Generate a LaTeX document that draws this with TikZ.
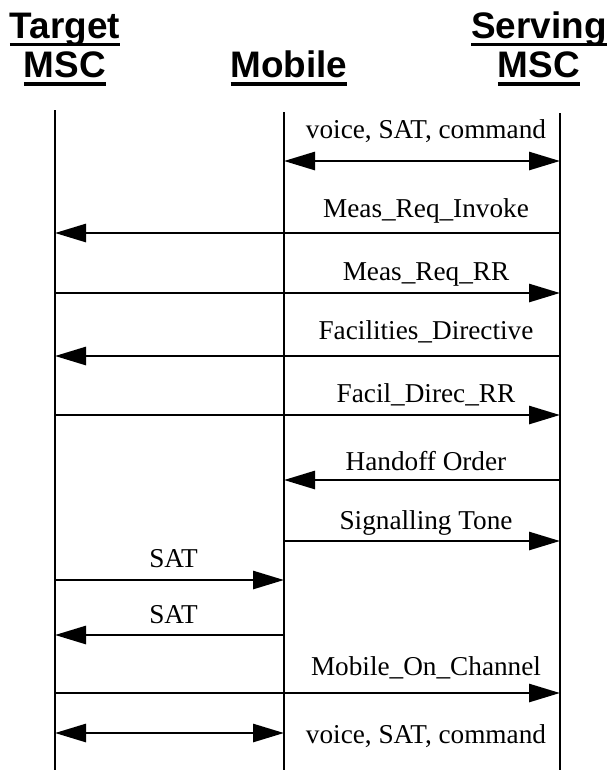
\documentclass[tikz,border=0pt]{standalone}
\usepackage{fontspec}
\setmainfont{Liberation Serif}
\newfontfamily\headfont{Liberation Sans}
\usetikzlibrary{positioning, arrows.meta, calc}
\tikzset{
  % Lifeline headers
  header/.style={
    font=\headfont\bfseries\fontsize{21}{22.5}\selectfont,
    align=center, inner sep=0pt, anchor=south
  },
  % Lifelines
  lifeline/.style={line width=1.6pt},
  % Messages
  msg/.style={
    -{Triangle[length=0.62cm, width=0.36cm]}, line width=1.6pt
  },
  msgboth/.style={
    {Triangle[length=0.62cm, width=0.36cm]}-{Triangle[length=0.62cm, width=0.36cm]},
    line width=1.6pt
  },
  msglabel/.style={
    font=\fontsize{15.5}{18}\selectfont,
    inner sep=0pt, anchor=base, yshift=#1, xshift=0.08cm
  },
  msglabel/.default=0.26cm,
}
\newcommand{\hdul}[1]{%
  \setbox0\hbox{#1}\rlap{\rule[-4.5pt]{\wd0}{1.8pt}}\box0}

\begin{document}
\begin{tikzpicture}

  \useasboundingbox (0,0) rectangle (12.14,-15.4);

  %% ── Headers ──
  \node[header] (tgtHd) at (1.3,-1.72) {\hdul{Target}\\\hdul{MSC}};
  \node[header] (mobHd) at (5.78,-1.72) {\hdul{Mobile}};
  \node[header] (srvHd) at (10.78,-1.72) {\hdul{Serving}\\\hdul{MSC}};

  %% ── Lifelines ──
  \coordinate (tgtTop) at (1.1,-2.2);
  \coordinate (tgtBot) at (1.1,-15.4);
  \coordinate (mobTop) at (5.68,-2.24);
  \coordinate (mobBot) at (5.68,-15.4);
  \coordinate (srvTop) at (11.2,-2.26);
  \coordinate (srvBot) at (11.2,-15.4);
  \draw[lifeline] (tgtTop) -- (tgtBot);
  \draw[lifeline] (mobTop) -- (mobBot);
  \draw[lifeline] (srvTop) -- (srvBot);

  %% ── Message rows ──
  \coordinate (row1)  at (0,-3.22);
  \coordinate (row2)  at (0,-4.66);
  \coordinate (row3)  at (0,-5.86);
  \coordinate (row4)  at (0,-7.12);
  \coordinate (row5)  at (0,-8.3);
  \coordinate (row6)  at (0,-9.6);
  \coordinate (row7)  at (0,-10.82);
  \coordinate (row8)  at (0,-11.6);
  \coordinate (row9)  at (0,-12.7);
  \coordinate (row10) at (0,-13.86);
  \coordinate (row11) at (0,-14.66);

  %% ── Messages ──
  \draw[msgboth] (mobTop |- row1) -- (srvTop |- row1)
    node[msglabel=0.46cm, midway] (voiceA) {voice, SAT, command};
  \draw[msg] (srvTop |- row2) -- (tgtTop |- row2);
  \node[msglabel=0.32cm] (measInv) at ($(mobTop |- row2)!0.5!(srvTop |- row2)$) {Meas\_Req\_Invoke};
  \draw[msg] (tgtTop |- row3) -- (srvTop |- row3);
  \node[msglabel] (measRR) at ($(mobTop |- row3)!0.5!(srvTop |- row3)$) {Meas\_Req\_RR};
  \draw[msg] (srvTop |- row4) -- (tgtTop |- row4);
  \node[msglabel=0.34cm] (facDir) at ($(mobTop |- row4)!0.5!(srvTop |- row4)$) {Facilities\_Directive};
  \draw[msg] (tgtTop |- row5) -- (srvTop |- row5);
  \node[msglabel] (facRR) at ($(mobTop |- row5)!0.5!(srvTop |- row5)$) {Facil\_Direc\_RR};
  \draw[msg] (srvTop |- row6) -- (mobTop |- row6)
    node[msglabel=0.2cm, midway] (handoff) {Handoff Order};
  \draw[msg] (mobTop |- row7) -- (srvTop |- row7)
    node[msglabel=0.24cm, midway] (sigTone) {Signalling Tone};
  \draw[msg] (tgtTop |- row8) -- (mobTop |- row8)
    node[msglabel, midway] (satA) {SAT};
  \draw[msg] (mobTop |- row9) -- (tgtTop |- row9)
    node[msglabel=0.24cm, midway] (satB) {SAT};
  \draw[msg] (tgtTop |- row10) -- (srvTop |- row10);
  \node[msglabel=0.36cm] (onChan) at ($(mobTop |- row10)!0.5!(srvTop |- row10)$) {Mobile\_On\_Channel};
  \draw[msgboth] (tgtTop |- row11) -- (mobTop |- row11);
  \node[msglabel=-0.2cm] (voiceB) at ($(mobTop |- row11)!0.5!(srvTop |- row11)$) {voice, SAT, command};

\end{tikzpicture}
\end{document}
